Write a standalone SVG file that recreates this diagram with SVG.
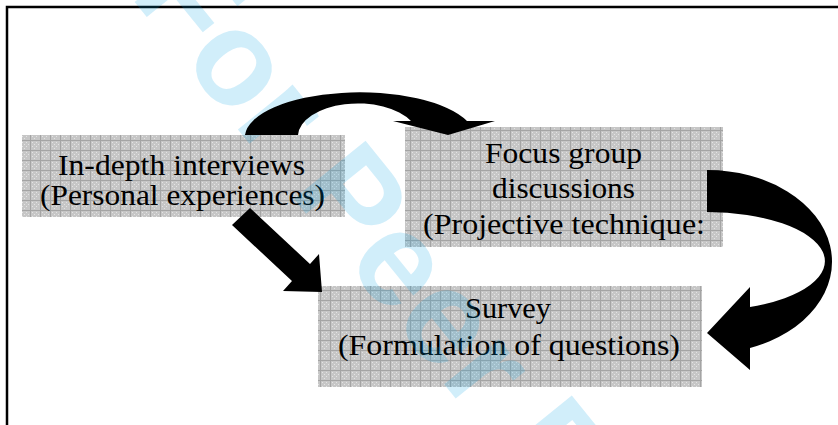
<svg xmlns="http://www.w3.org/2000/svg" width="838" height="425" viewBox="0 0 838 425">
  <style>
    .box { fill: url(#grid); }
    .lbl { font-family: "Liberation Serif", "Times New Roman", serif; font-size: 29px; fill: #000; }
    .arrow { fill: #000; stroke: none; }
    .wm { font-family: "Liberation Sans", Arial, sans-serif; font-weight: bold; font-size: 134px; fill: #00a0e6; fill-opacity: 0.18; }
  </style>
  <defs>
    <pattern id="grid" width="10" height="10" patternUnits="userSpaceOnUse">
      <rect width="10" height="10" fill="#c6c6c6"/>
      <rect x="2" y="2" width="1" height="1" fill="#e4e4e4"/>
      <rect x="6" y="2" width="1" height="1" fill="#e4e4e4"/>
      <rect x="4" y="4" width="1" height="1" fill="#e4e4e4"/>
      <rect x="8" y="4" width="1" height="1" fill="#e4e4e4"/>
      <rect x="2" y="6" width="1" height="1" fill="#e4e4e4"/>
      <rect x="6" y="6" width="1" height="1" fill="#e4e4e4"/>
      <rect x="4" y="8" width="1" height="1" fill="#e4e4e4"/>
      <path d="M0 0.5H10M0.5 0V10" stroke="#a4a4a4" stroke-width="1"/>
    </pattern>
  </defs>
  <rect width="838" height="425" fill="#fff"/>
  <rect x="7" y="7" width="900" height="500" fill="none" stroke="#000" stroke-width="2.5"/>

  <g id="node-indepth">
    <rect class="box" x="22" y="135" width="323" height="82"/>
    <text class="lbl" x="58" y="175" textLength="247" lengthAdjust="spacingAndGlyphs">In-depth interviews</text>
    <text class="lbl" x="40" y="205" textLength="285" lengthAdjust="spacingAndGlyphs">(Personal experiences)</text>
  </g>

  <g id="node-focus">
    <rect class="box" x="405" y="127" width="318" height="120"/>
    <text class="lbl" x="485" y="163" textLength="157" lengthAdjust="spacingAndGlyphs">Focus group</text>
    <text class="lbl" x="492" y="198" textLength="143" lengthAdjust="spacingAndGlyphs">discussions</text>
    <text class="lbl" x="423" y="234" textLength="282" lengthAdjust="spacingAndGlyphs">(Projective technique:</text>
  </g>

  <g id="node-survey">
    <rect class="box" x="318" y="286" width="384" height="101"/>
    <text class="lbl" x="465" y="318" textLength="86" lengthAdjust="spacingAndGlyphs">Survey</text>
    <text class="lbl" x="338" y="355" textLength="342" lengthAdjust="spacingAndGlyphs">(Formulation of questions)</text>
  </g>

  <text class="wm" transform="translate(129,-5) rotate(51)">For Peer Review</text>

  <g id="connectors">
    <path class="arrow" d="M245,135 A115,45 0 0 1 467,121 L495,121 L448,135 L393,121 L411,121 A60,33 0 0 0 298,135 Z"/>
    <path class="arrow" d="M232,225 L250,208 L310,264 L319,254 L322,292 L283,291 L292,281 Z"/>
    <path class="arrow" d="M707,170 A125,91.8 0 0 1 750,348 L750,370 L707,333 L750,287 L750,307 A118,49.2 0 0 0 707,212 Z"/>
  </g>
</svg>
